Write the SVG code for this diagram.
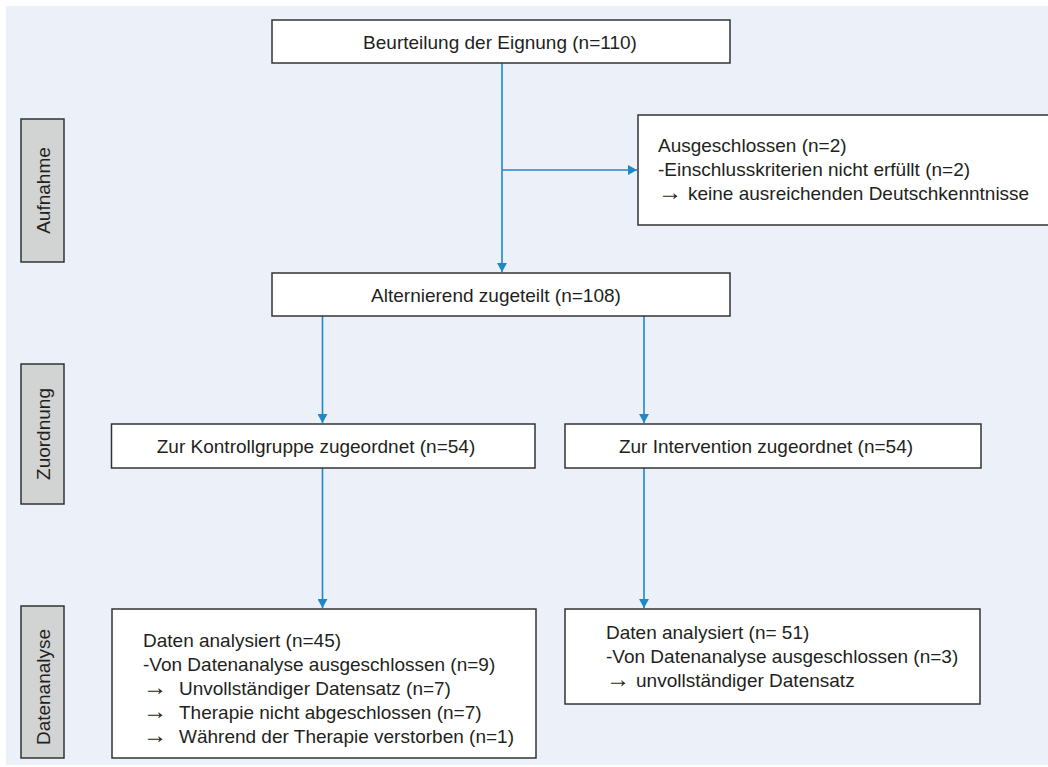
<svg xmlns="http://www.w3.org/2000/svg" width="1048" height="767" viewBox="0 0 1048 767">
<defs>
<style>
.bg{fill:#ECF0F9}
.box{fill:#FFFFFF;stroke:#333333;stroke-width:1.5}
.lane{fill:#D2D3D3;stroke:#333333;stroke-width:1.5}
.t{font-family:"Liberation Sans",Arial,sans-serif;font-size:19px;fill:#231F20}
.c{text-anchor:middle}
.ar{font-family:"Liberation Serif","Times New Roman",serif;font-size:24px}
.conn{stroke:#1F88C9;stroke-width:1.6;fill:none}
</style>
<marker id="ah" markerWidth="10" markerHeight="10" refX="9" refY="5" orient="auto" markerUnits="userSpaceOnUse">
<path d="M0,0 L9,5 L0,10 Z" fill="#1F88C9"/>
</marker>
</defs>
<rect class="bg" x="6" y="6" width="1044" height="759"/>

<g id="lane-aufnahme">
<rect class="lane" x="21" y="119" width="43" height="143"/>
<text class="t c" transform="translate(49.5,190.5) rotate(-90)">Aufnahme</text>
</g>
<g id="lane-zuordnung">
<rect class="lane" x="21" y="364" width="43" height="140"/>
<text class="t c" transform="translate(49.5,434) rotate(-90)">Zuordnung</text>
</g>
<g id="lane-datenanalyse">
<rect class="lane" x="21" y="606" width="43" height="152"/>
<text class="t c" transform="translate(49.5,687) rotate(-90)">Datenanalyse</text>
</g>

<g id="connectors">
<line class="conn" x1="502" y1="63" x2="502" y2="272" marker-end="url(#ah)"/>
<line class="conn" x1="502" y1="170" x2="637" y2="170" marker-end="url(#ah)"/>
<line class="conn" x1="322.5" y1="316" x2="322.5" y2="423" marker-end="url(#ah)"/>
<line class="conn" x1="644" y1="316" x2="644" y2="423" marker-end="url(#ah)"/>
<line class="conn" x1="322.5" y1="468" x2="322.5" y2="608" marker-end="url(#ah)"/>
<line class="conn" x1="644" y1="468" x2="644" y2="608" marker-end="url(#ah)"/>
</g>

<g id="node-eignung">
<rect class="box" x="272" y="20" width="458" height="43"/>
<text class="t c" x="500" y="48.5">Beurteilung der Eignung (n=110)</text>
</g>
<g id="node-ausgeschlossen">
<rect class="box" x="638" y="115" width="420" height="110"/>
<text class="t" x="658" y="152">Ausgeschlossen (n=2)</text>
<text class="t" x="658" y="176">-Einschlusskriterien nicht erfüllt (n=2)</text>
<text class="t" y="200"><tspan class="ar" x="658">→</tspan><tspan x="688">keine ausreichenden Deutschkenntnisse</tspan></text>
</g>
<g id="node-alternierend">
<rect class="box" x="272" y="273" width="458" height="43"/>
<text class="t c" x="496" y="301.5">Alternierend zugeteilt (n=108)</text>
</g>
<g id="node-kontroll">
<rect class="box" x="111.5" y="424" width="423.5" height="44"/>
<text class="t c" x="316" y="453">Zur Kontrollgruppe zugeordnet (n=54)</text>
</g>
<g id="node-intervention">
<rect class="box" x="565" y="424" width="416" height="44"/>
<text class="t c" x="766" y="453">Zur Intervention zugeordnet (n=54)</text>
</g>
<g id="node-daten-kontroll">
<rect class="box" x="112" y="609" width="424" height="149"/>
<text class="t" x="143" y="647">Daten analysiert (n=45)</text>
<text class="t" x="143" y="671">-Von Datenanalyse ausgeschlossen (n=9)</text>
<text class="t" y="695"><tspan class="ar" x="143">→</tspan><tspan x="179">Unvollständiger Datensatz (n=7)</tspan></text>
<text class="t" y="719"><tspan class="ar" x="143">→</tspan><tspan x="179">Therapie nicht abgeschlossen (n=7)</tspan></text>
<text class="t" y="743"><tspan class="ar" x="143">→</tspan><tspan x="179">Während der Therapie verstorben (n=1)</tspan></text>
</g>
<g id="node-daten-intervention">
<rect class="box" x="565" y="609" width="415" height="95"/>
<text class="t" x="606" y="639">Daten analysiert (n= 51)</text>
<text class="t" x="606" y="663">-Von Datenanalyse ausgeschlossen (n=3)</text>
<text class="t" y="687"><tspan class="ar" x="606">→</tspan><tspan x="636">unvollständiger Datensatz</tspan></text>
</g>
</svg>
